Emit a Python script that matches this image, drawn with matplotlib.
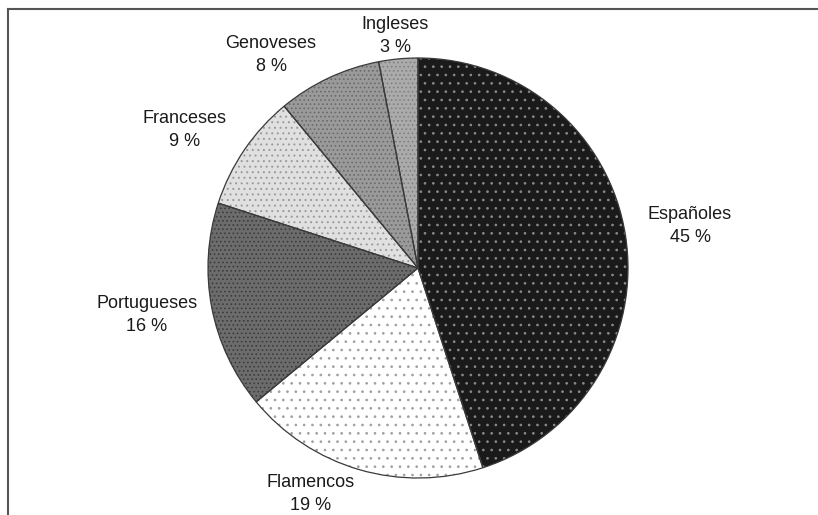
import matplotlib
matplotlib.use("Agg")
import matplotlib.pyplot as plt
from matplotlib.lines import Line2D

plt.rcParams['font.family'] = ['Liberation Sans', 'DejaVu Sans']
plt.rcParams['hatch.linewidth'] = 0.7

categories = ["Españoles", "Flamencos", "Portugueses", "Franceses", "Genoveses", "Ingleses"]
values = [45, 19, 16, 9, 8, 3]
face_colors = ["#1a1a1a", "#ffffff", "#6c6c6c", "#e0e0e0", "#9a9a9a", "#ababab"]
hatch_colors = ["#8a8a8a", "#a0a0a0", "#3c3c3c", "#9a9a9a", "#6a6a6a", "#808080"]
hatches = ["..", "..", "....", "...", "....", "...."]
label_pos = [(690, 226), (311, 494), (147, 315), (185, 130), (271, 55), (395, 36)]

W, H = 818, 515
fig = plt.figure(figsize=(W / 100, H / 100), dpi=100)
ax = fig.add_axes([0, 0, 1, 1])

center = (418, 268)
radius = 210

# base fill
wedges, _ = ax.pie(values, colors=face_colors, startangle=-90, counterclock=True,
                   center=center, radius=radius,
                   wedgeprops=dict(linewidth=0))
# texture layer
wedges2, _ = ax.pie(values, colors=["none"] * len(values), startangle=-90, counterclock=True,
                    center=center, radius=radius,
                    wedgeprops=dict(linewidth=0))
for w, hc, h in zip(wedges2, hatch_colors, hatches):
    w.set_facecolor("none")
    w.set_edgecolor(hc)
    w.set_hatch(h)
    w.set_linewidth(0)
# edges on top
wedges3, _ = ax.pie(values, colors=["none"] * len(values), startangle=-90, counterclock=True,
                    center=center, radius=radius,
                    wedgeprops=dict(edgecolor="#3a3a3a", linewidth=0.9, fill=False))

for cat, v, (x, y) in zip(categories, values, label_pos):
    ax.text(x, y, f"{cat}\n{v} %", ha="center", va="center", fontsize=13,
            color="#1a1a1a", linespacing=1.4)

ax.set_xlim(0, W)
ax.set_ylim(H, 0)
ax.set_aspect("equal")
ax.axis("off")

# frame lines (top and left)
fig.add_artist(Line2D([8 / W, 1], [1 - 9 / H, 1 - 9 / H], color="#555555", linewidth=1.5))
fig.add_artist(Line2D([8 / W, 8 / W], [0, 1 - 9 / H], color="#555555", linewidth=1.5))

fig.savefig("out.png", dpi=100)
